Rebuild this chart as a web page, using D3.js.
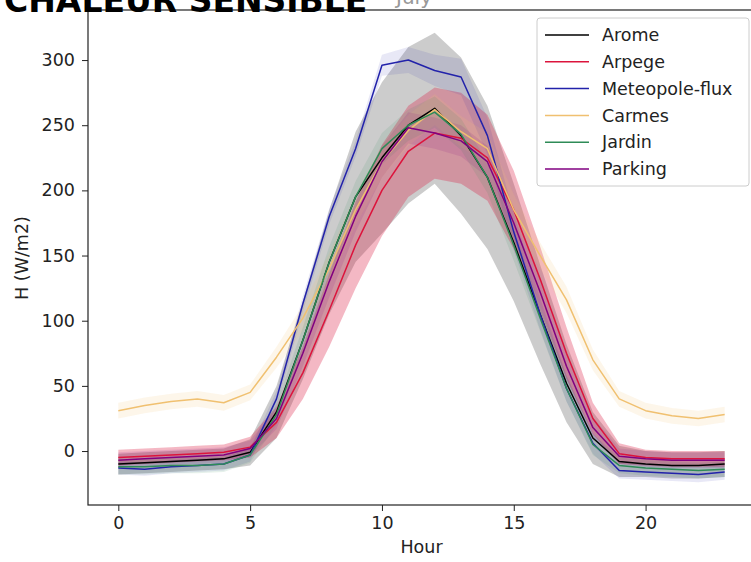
<!DOCTYPE html>
<html>
<head>
<meta charset="utf-8">
<script src="https://cdn.jsdelivr.net/npm/d3@7"></script>
<style>
  html, body { margin: 0; padding: 0; background: #fff; }
  svg { display: block; font-family: "DejaVu Sans", sans-serif; }
</style>
</head>
<body>
<svg id="chart" width="751" height="562"></svg>
<script>
// Hourly mean sensible heat flux (W/m2) and spread, July
const hours = d3.range(0, 24);
const xTicks = [0, 5, 10, 15, 20];
const yTicks = [0, 50, 100, 150, 200, 250, 300];
const seriesNames = ["Arome", "Arpege", "Meteopole-flux", "Carmes", "Jardin", "Parking"];
const seriesColors = ["#000000", "#dc143c", "#2222aa", "#f0c070", "#2e8b57", "#800080"];
const bandOpacity = [0.2, 0.3, 0.1, 0.15, 0.12, 0.12];

const arome   = [-10,-9,-8,-7,-6,-1,30,85,145,195,225,250,263,242,210,160,105,52,10,-8,-10,-11,-11,-10];
const arpege  = [-5,-4,-3,-2,-1,3,22,60,108,158,200,230,244,240,225,185,132,75,25,-2,-5,-6,-6,-6];
const meteo   = [-13,-14,-12,-11,-10,-3,40,113,180,232,296,300,292,287,242,168,105,48,6,-15,-16,-17,-18,-16];
const carmes  = [31,35,38,40,37,45,72,102,140,185,222,246,262,245,232,185,150,116,70,40,31,27,25,28];
const jardin  = [-12,-12,-11,-11,-10,-3,28,85,145,195,232,250,260,243,210,158,102,48,5,-11,-13,-14,-15,-14];
const parking = [-7,-6,-5,-4,-3,2,25,75,130,180,222,248,244,238,222,175,122,65,18,-4,-6,-7,-7,-7];

const aromeSd   = [8,8,8,8,8,10,20,30,40,50,58,60,58,60,55,45,38,30,20,12,10,10,10,10];
const arpegeSd  = [6,6,6,6,6,8,12,20,28,33,35,35,35,35,33,30,25,20,12,8,6,6,6,6];
const meteoSd   = [5,5,5,5,5,5,6,6,6,6,8,10,12,14,14,14,12,10,8,6,6,6,6,6];
const carmesSd  = [6,6,6,6,6,6,8,10,12,12,12,12,12,12,12,12,10,10,8,6,6,6,6,6];
const jardinSd  = [6,6,6,6,6,6,8,10,12,12,12,12,12,12,12,12,10,10,8,6,6,6,6,6];
const parkingSd = [6,6,6,6,6,6,8,10,12,12,12,12,12,12,12,12,10,10,8,6,6,6,6,6];

const means = [arome, arpege, meteo, carmes, jardin, parking];
const spreads = [aromeSd, arpegeSd, meteoSd, carmesSd, jardinSd, parkingSd];

const svg = d3.select("#chart");
const mLeft = 88, mRight = 755, mTop = 10, mBottom = 505;

const x = d3.scaleLinear().domain([-1.15, 24.15]).range([mLeft, mRight]);
const y = d3.scaleLinear().domain([-41.4, 338.4]).range([mBottom, mTop]);

svg.append("defs").append("clipPath").attr("id", "plotclip")
  .append("rect").attr("x", mLeft).attr("y", mTop).attr("width", mRight - mLeft).attr("height", mBottom - mTop);

const plot = svg.append("g").attr("clip-path", "url(#plotclip)");

const area = d3.area().x((d, i) => x(hours[i])).y0(d => y(d[0])).y1(d => y(d[1]));
const line = d3.line().x((d, i) => x(hours[i])).y(d => y(d));

means.forEach((m, k) => {
  const band = m.map((v, i) => [v - spreads[k][i], v + spreads[k][i]]);
  plot.append("path").datum(band).attr("d", area)
    .attr("fill", seriesColors[k]).attr("fill-opacity", bandOpacity[k]).attr("stroke", "none");
});
means.forEach((m, k) => {
  plot.append("path").datum(m).attr("d", line)
    .attr("fill", "none").attr("stroke", seriesColors[k]).attr("stroke-width", 1.5)
    .attr("stroke-linejoin", "round");
});

// axes
const fs = "17.5px";
const xAxis = svg.append("g").attr("transform", `translate(0,${mBottom})`)
  .call(d3.axisBottom(x).tickValues(xTicks).tickSize(6).tickPadding(6).tickFormat(d3.format("d")));
const yAxis = svg.append("g").attr("transform", `translate(${mLeft},0)`)
  .call(d3.axisLeft(y).tickValues(yTicks).tickSize(6).tickPadding(7).tickFormat(d3.format("d")));
[xAxis, yAxis].forEach(a => {
  a.select(".domain").remove();
  a.selectAll("text").attr("font-size", fs).attr("font-family", "DejaVu Sans").attr("fill", "#222");
  a.selectAll("line").attr("stroke", "#222").attr("stroke-width", 1);
});

// frame
svg.append("rect").attr("x", mLeft).attr("y", mTop).attr("width", mRight - mLeft).attr("height", mBottom - mTop)
  .attr("fill", "none").attr("stroke", "#222").attr("stroke-width", 1.2);

// axis labels
svg.append("text").attr("x", x(11.5)).attr("y", 553).attr("text-anchor", "middle")
  .attr("font-size", fs).attr("fill", "#222").text("Hour");
svg.append("text").attr("transform", `translate(28,258) rotate(-90)`).attr("text-anchor", "middle")
  .attr("font-size", fs).attr("fill", "#222").text("H (W/m2)");

// title, running off the top edge of the page
svg.append("text").attr("x", 4).attr("y", 12).attr("font-size", "33px").attr("font-weight", "bold")
  .attr("fill", "#000").text("CHALEUR SENSIBLE");
svg.append("text").attr("x", 396).attr("y", 4).attr("font-size", "20px").attr("fill", "#999").text("July");

// legend
const lg = svg.append("g");
lg.append("rect").attr("x", 537).attr("y", 18).attr("width", 212).attr("height", 168).attr("rx", 3)
  .attr("fill", "#fff").attr("fill-opacity", 0.8).attr("stroke", "#ccc");
seriesNames.forEach((name, k) => {
  const cy = 35 + k * 26.8;
  lg.append("line").attr("x1", 545).attr("x2", 589).attr("y1", cy).attr("y2", cy)
    .attr("stroke", seriesColors[k]).attr("stroke-width", 1.5);
  lg.append("text").attr("x", 602).attr("y", cy).attr("dy", "0.35em")
    .attr("font-size", fs).attr("fill", "#222").text(name);
});
</script>
</body>
</html>
